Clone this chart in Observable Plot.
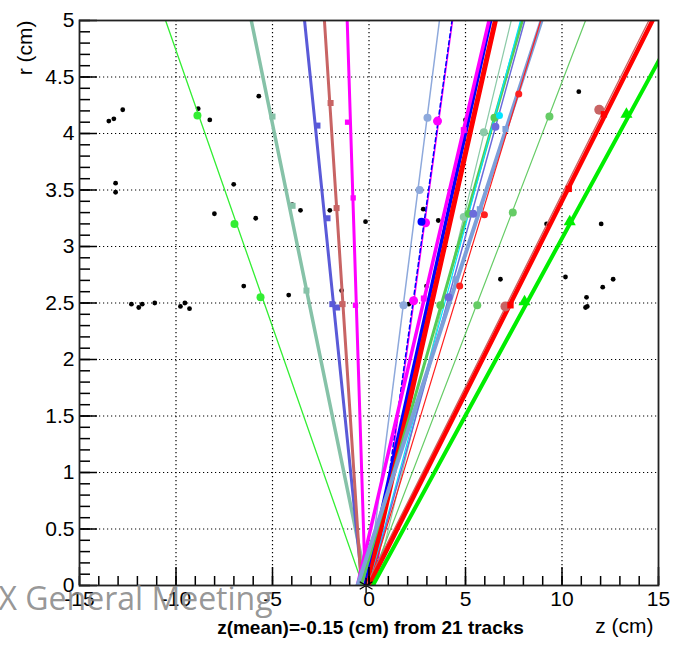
<!DOCTYPE html>
<html>
<head>
<meta charset="utf-8">
<script src="https://cdn.jsdelivr.net/npm/d3@7"></script>
<script src="https://cdn.jsdelivr.net/npm/@observablehq/plot@0.6"></script>
<style>
  body { margin: 0; background: #fff; }
  #chart svg { display: block; }
</style>
</head>
<body>
<div id="chart"></div>
<script>
// Reconstructed tracks in the r–z plane: each track runs from r = 0 (z at the beam line)
// up to r = 5 cm (z where it leaves the top of the frame).
const trackIds = [1, 2, 3, 4, 5, 6, 7, 8, 9, 10, 11, 12, 13, 14, 15, 16, 17, 18, 20, 19, 21];
const trackZ0  = [-0.32, -0.10, -0.35, -0.40, -0.19, -0.07, 0.30, 0.25, -0.20, -0.60, -0.05, 0.30, -0.40, 0.00, 0.03, -0.60, 0.00, 0.00, -0.15, 0.00, 0.20];
const trackZ5  = [-10.54, -6.10, -3.34, -2.31, -1.13, 3.65, 4.33, 4.30, 6.30, 6.22, 6.55, 7.37, 7.94, 7.85, 8.07, 8.94, 8.90, 11.22, 14.50, 14.69, 16.15];

// Drawing style of each track, same order as trackIds
const trackColor  = ["#33ee33", "#86c2a8", "#5a5ad8", "#c86464", "#ff00ff", "#8ea9dc", "#ff00ff", "#0000ff", "#0000ff", "#ff00ff", "#ff0000", "#8ccaa8", "#55cc55", "#00e5ff", "#6b6bdb", "#7d9fd9", "#ff2020", "#66cc66", "#c86464", "#ff0000", "#00ee00"];
const trackWidth  = [1.3, 3.5, 3, 3, 3, 1.5, 1.5, 1.5, 3.5, 3.5, 5, 1.2, 3, 1.2, 1.5, 4, 1.2, 1.2, 1.3, 4.5, 4];
const trackDash   = [null, null, null, null, null, null, null, "4,3", null, null, null, null, null, null, null, null, null, null, null, null, null];
const trackSymbol = ["circle", "square", "square", "square", "square", "circle", "circle", "circle", "circle", "square", "square", "circle", "circle", "circle", "circle", "square", "circle", "circle", "circle", "square", "triangle"];
const trackMarkR  = [4, 3.4, 3.4, 3.4, 3, 4, 4.5, 4, 4, 3.4, 3.4, 4, 4, 3.5, 4, 3.4, 3.5, 4, 5, 3.6, 4.5];

// Hits attached to the tracks (track id, z, r)
const hitTrack = [1, 1, 1, 2, 2, 2, 3, 3, 3, 3, 4, 4, 4, 5, 5, 5, 6, 6, 6, 8, 7, 7, 7, 10, 10, 12, 12, 13, 13, 13, 14, 15, 15, 15, 16, 16, 16, 17, 17, 17, 18, 18, 18, 20, 20, 19, 19, 19, 21, 21, 21];
const hitZ = [-8.89, -6.97, -5.62, -5.00, -3.96, -3.24, -2.67, -2.15, -1.90, -1.65, -1.99, -1.68, -1.37, -1.11, -0.82, -0.70, 3.03, 2.62, 1.79, 2.72, 3.55, 2.93, 2.31, 4.91, 2.84, 5.95, 4.91, 6.50, 5.17, 3.70, 6.76, 6.55, 5.40, 4.13, 7.07, 5.74, 4.48, 7.76, 5.98, 4.70, 9.35, 7.45, 5.61, 11.93, 7.07, 12.17, 10.35, 7.33, 13.34, 10.40, 8.06];
const hitR = [4.16, 3.20, 2.55, 4.15, 3.36, 2.61, 4.07, 3.25, 2.49, 2.46, 4.27, 3.34, 2.49, 4.10, 3.43, 2.48, 4.14, 3.50, 2.48, 3.22, 4.11, 3.21, 2.52, 4.03, 2.54, 4.01, 3.26, 4.14, 3.29, 2.48, 4.16, 4.06, 3.29, 2.55, 4.04, 3.33, 2.71, 4.35, 3.28, 2.65, 4.15, 3.30, 2.48, 4.21, 2.47, 4.17, 3.51, 2.48, 4.17, 3.22, 2.51];

// Hits not used by any track
const looseZ = [-13.48, -13.22, -12.76, -13.13, -13.13, -12.31, -11.93, -11.75, -11.10, -9.77, -9.54, -9.30, -8.85, -8.25, -7.01, -8.01, -5.87, -6.49, -5.71, -4.16, -3.98, -3.55, -2.03, -1.42, -0.18, 2.81, 3.59, 5.00, 2.06, 2.98, 6.81, 9.20, 10.87, 12.03, 10.18, 12.11, 12.65, 11.27, 11.22, 11.31];
const looseR = [4.11, 4.13, 4.21, 3.56, 3.48, 2.49, 2.46, 2.49, 2.50, 2.47, 2.50, 2.45, 4.22, 4.12, 3.55, 3.29, 3.25, 2.65, 4.33, 2.57, 3.37, 3.32, 3.32, 2.61, 3.22, 3.33, 3.23, 4.12, 2.49, 2.65, 2.71, 3.20, 4.37, 3.20, 2.73, 2.64, 2.71, 2.55, 2.46, 2.47];

// Vertex estimate
const vertexZ = [-0.15];
const trackCount = 21;

// Axis ticks
const xMajorTicks = [-15, -10, -5, 0, 5, 10, 15];
const xMinorTicks = d3.range(-15, 16);
const yMajorTicks = [0, 0.5, 1, 1.5, 2, 2.5, 3, 3.5, 4, 4.5, 5];
const yMinorTicks = d3.range(0, 51).map(i => i / 10);
const xGrid = [-10, -5, 0, 5, 10];
const yGrid = [0.5, 1, 1.5, 2, 2.5, 3, 3.5, 4, 4.5];

// Tables built from the arrays above
const trackRows = trackIds.flatMap((id, i) => [
  {track: id, z: trackZ0[i], r: 0},
  {track: id, z: trackZ5[i], r: 5}
]);
const hits = hitTrack.map((t, i) => ({track: t, z: hitZ[i], r: hitR[i]}));
const loose = looseZ.map((z, i) => ({z, r: looseR[i]}));

const marks = [
  Plot.gridX(xGrid, {stroke: "#000", strokeOpacity: 1, strokeDasharray: "1.2,2.8", strokeWidth: 1.2}),
  Plot.gridY(yGrid, {stroke: "#000", strokeOpacity: 1, strokeDasharray: "1.2,2.8", strokeWidth: 1.2}),
  Plot.dot(loose, {x: "z", y: "r", r: 2.4, fill: "#000"})
];

trackIds.forEach((id, i) => {
  marks.push(Plot.line(trackRows.filter(d => d.track === id), {
    x: "z", y: "r", stroke: trackColor[i], strokeWidth: trackWidth[i],
    strokeDasharray: trackDash[i] ?? undefined, clip: true
  }));
});
trackIds.forEach((id, i) => {
  const h = hits.filter(d => d.track === id);
  if (h.length) marks.push(Plot.dot(h, {
    x: "z", y: "r", symbol: trackSymbol[i], r: trackMarkR[i], fill: trackColor[i], stroke: "none"
  }));
});

marks.push(
  Plot.dot(vertexZ, {x: d => d, y: () => 0, symbol: "asterisk", r: 7, stroke: "#000", strokeWidth: 1.3}),
  // inward ticks
  Plot.tickX(xMinorTicks, {x: d => d, insetTop: 556, stroke: "#000", strokeWidth: 1.5}),
  Plot.tickX(xMajorTicks, {x: d => d, insetTop: 547, stroke: "#000", strokeWidth: 1.5}),
  Plot.tickY(yMinorTicks, {y: d => d, insetRight: 568, stroke: "#000", strokeWidth: 1.5}),
  Plot.tickY(yMajorTicks, {y: d => d, insetRight: 561, stroke: "#000", strokeWidth: 1.5}),
  Plot.frame({stroke: "#222", strokeWidth: 1.8}),
  Plot.axisX({ticks: xMajorTicks, tickSize: 0, tickPadding: 6, tickFormat: d => String(d), fontSize: 21, label: null}),
  Plot.axisY({ticks: yMajorTicks, tickSize: 0, tickPadding: 5, tickFormat: d => String(d), fontSize: 21, label: null}),
  Plot.text(["r (cm)"], {frameAnchor: "top-left", rotate: -90, textAnchor: "end", lineAnchor: "middle", dx: -54, dy: 0, fontSize: 21}),
  Plot.text(["z (cm)"], {frameAnchor: "bottom-right", textAnchor: "end", lineAnchor: "middle", dx: -5, dy: 41, fontSize: 21}),
  Plot.text([`z(mean)=${vertexZ[0]} (cm) from ${trackCount} tracks`], {frameAnchor: "bottom", textAnchor: "middle", lineAnchor: "middle", dx: 1.5, dy: 42, fontSize: 19, fontWeight: "bold"}),
  Plot.text(["X General Meeting"], {frameAnchor: "bottom-left", textAnchor: "start", lineAnchor: "middle", dx: -81, dy: 14, fontSize: 32, fill: "#8a8a8a", fillOpacity: 0.9, fontFamily: "Open Sans"})
);

const chart = Plot.plot({
  width: 691,
  height: 648,
  marginTop: 20,
  marginRight: 33,
  marginBottom: 63,
  marginLeft: 79,
  style: {fontFamily: "'Liberation Sans', Arial, Helvetica, sans-serif", background: "#fff", color: "#000"},
  x: {domain: [-15, 15]},
  y: {domain: [0, 5]},
  marks
});
document.getElementById("chart").append(chart);
</script>
</body>
</html>
